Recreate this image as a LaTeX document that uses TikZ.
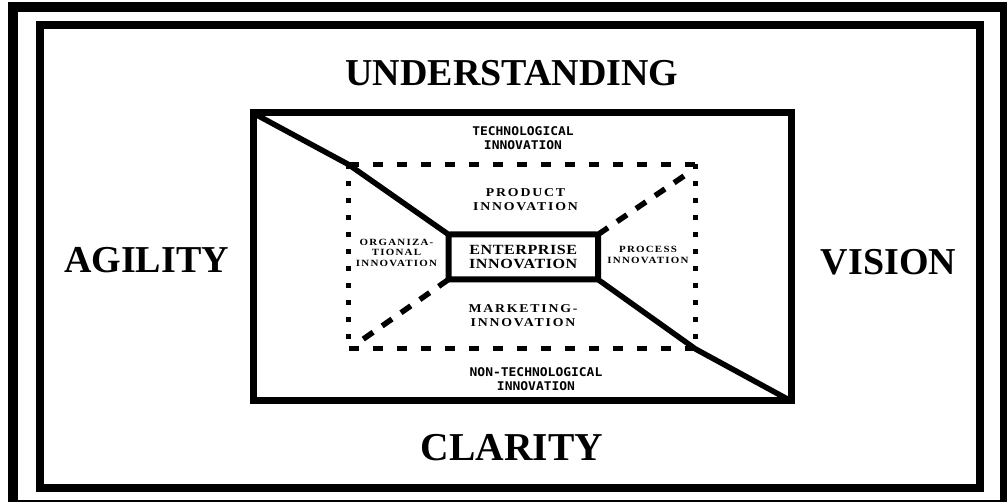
\documentclass[tikz,border=0pt]{standalone}
\usepackage{fontspec}
\setmainfont{Liberation Serif}
\newfontfamily\spacedbig{Liberation Serif}[FakeStretch=1.15, LetterSpace=4]
\newfontfamily\spacedmid{Liberation Serif}[FakeStretch=1.15, LetterSpace=15]
\newfontfamily\spacedsmall{Liberation Serif}[FakeStretch=1.15, LetterSpace=13]
\newfontfamily\techfont{DejaVu Sans Mono}[FakeStretch=1.08]
\begin{document}
\begin{tikzpicture}[x=1pt,y=-1pt,
  boxnode/.style={inner sep=0pt, outer sep=0pt},
  bigtext/.style={font=\fontsize{38}{40}\selectfont\bfseries, inner sep=0pt},
  techtext/.style={font=\techfont\bfseries\fontsize{12}{13.5}\selectfont, align=center, inner sep=0pt},
  spbig/.style={font=\spacedbig\bfseries\fontsize{14}{14.5}\selectfont, align=center, inner sep=0pt},
  spmid/.style={font=\spacedmid\bfseries\fontsize{12}{14}\selectfont, align=center, inner sep=0pt},
  spsmall/.style={font=\spacedsmall\bfseries\fontsize{9.5}{10.3}\selectfont, align=center, inner sep=0pt},
  hdash/.style={line width=5pt, dash pattern=on 10pt off 14pt},
  vdash/.style={line width=5pt, dash pattern=on 5pt off 12pt},
  ddash/.style={line width=5.5pt, dash pattern=on 12pt off 11pt},
  solidline/.style={line width=5.5pt, line join=round}
]
\useasboundingbox (0,0) rectangle (1007,502);
\fill[white] (0,0) rectangle (1007,502);
% frames
\node[boxnode, draw, line width=10pt, minimum width=992pt, minimum height=497.5pt] (outer) at (509,256.25) {};
\node[boxnode, draw, line width=8pt, minimum width=940.5pt, minimum height=462.5pt] (inner) at (509.75,256.25) {};
% big labels
\node[bigtext] (und) at (512,73) {UNDERSTANDING};
\node[bigtext] (agi) at (146.5,260) {AGILITY};
\node[bigtext] (vis) at (888.5,262) {VISION};
\node[bigtext, font=\fontsize{39.5}{42}\selectfont\bfseries] (cla) at (512,448) {CLARITY};
% middle box
\node[boxnode, draw, line width=7pt, minimum width=538pt, minimum height=288pt] (mid) at (522,257) {};
% dashed box (sides drawn separately)
\node[boxnode, minimum width=347pt, minimum height=184.5pt] (dbox) at (522,256.75) {};
% enterprise box
\node[boxnode, draw, line width=6pt, rounded corners=2pt, minimum width=149.5pt, minimum height=45pt,
      spbig] (ent) at (523.25,257) {ENTERPRISE\\INNOVATION};
% dashed sides
\draw[hdash] (dbox.north west) -- (dbox.north east);
\draw[hdash] (dbox.south west) -- (dbox.south east);
\draw[vdash] (dbox.north west) -- (dbox.south west);
\draw[vdash] (dbox.north east) -- (dbox.south east);
% dashed diagonals
\coordinate (ddne) at (684,176);
\coordinate (ddsw) at (362,340);
\draw[ddash] (ent.north east) -- (ddne);
\draw[ddash] (ent.south west) -- (ddsw);
% solid diagonal
\draw[solidline] (mid.north west) -- (dbox.north west) -- (ent.north west);
\draw[solidline] (ent.south east) -- (dbox.south east) -- (mid.south east);
% labels
\node[techtext] (tech) at (523,138) {TECHNOLOGICAL\\INNOVATION};
\node[techtext] (ntech) at (536,379) {NON-TECHNOLOGICAL\\INNOVATION};
\node[spmid] (prod) at (525.5,200) {PRODUCT\\INNOVATION};
\node[spmid] (mkt) at (523,316) {MARKETING-\\INNOVATION};
\node[spsmall] (org) at (396.5,252.7) {ORGANIZA-\\TIONAL\\INNOVATION};
\node[spsmall] (proc) at (648,255) {PROCESS\\INNOVATION};
\end{tikzpicture}
\end{document}
